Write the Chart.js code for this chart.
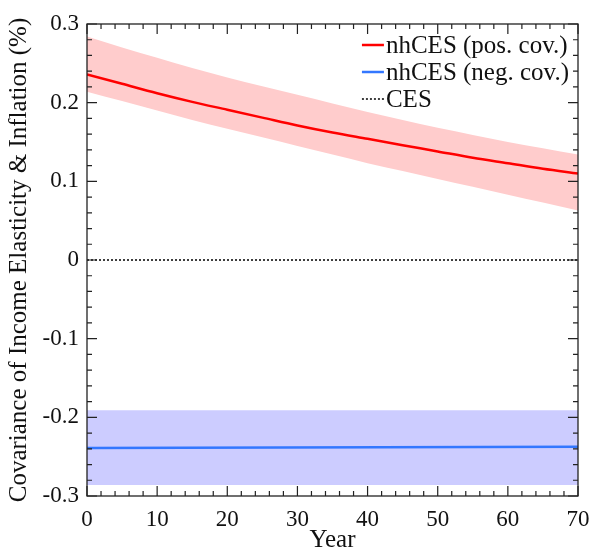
<!DOCTYPE html>
<html>
<head>
<meta charset="utf-8">
<script src="https://cdn.jsdelivr.net/npm/chart.js@4.4.1/dist/chart.umd.min.js"></script>
<style>
    html, body { margin: 0; padding: 0; background: #fff; }
    #wrap { width: 592px; height: 555px; }
</style>
</head>
<body>
<div id="wrap"><canvas id="covChart" width="592" height="555"></canvas></div>
<script>
// years and series values
const years = [0, 5, 10, 15, 20, 25, 30, 35, 40, 45, 50, 55, 60, 65, 70];
const posCov = [0.236, 0.224, 0.212, 0.201, 0.191, 0.181, 0.171, 0.162, 0.154, 0.146, 0.138, 0.130, 0.123, 0.116, 0.110];
const posUpper = [0.284, 0.270, 0.257, 0.244, 0.232, 0.221, 0.210, 0.199, 0.188, 0.178, 0.168, 0.159, 0.150, 0.142, 0.134];
const posLower = [0.214, 0.202, 0.190, 0.178, 0.167, 0.156, 0.145, 0.134, 0.123, 0.113, 0.103, 0.093, 0.083, 0.073, 0.063];
const negYears = [0, 70];
const negCov = [-0.239, -0.2375];
const negUpper = [-0.191, -0.191];
const negLower = [-0.286, -0.286];
const cesYears = [0, 70];
const cesValues = [0, 0];

const xTicks = [0, 10, 20, 30, 40, 50, 60, 70];
const yTicks = [0.3, 0.2, 0.1, 0, -0.1, -0.2, -0.3];

const serif = '"Liberation Serif", "DejaVu Serif", serif';

function pts(xs, ys) {
    return xs.map((x, i) => ({ x: x, y: ys[i] }));
}

// frame with inward ticks on all four sides, positioned from the scales
const frameTicks = {
    id: 'frameTicks',
    afterDatasetsDraw(chart) {
        const { ctx, chartArea: a, scales } = chart;
        ctx.save();
        ctx.strokeStyle = '#222';
        ctx.lineWidth = 1.3;
        ctx.strokeRect(a.left, a.top, a.right - a.left, a.bottom - a.top);
        ctx.lineWidth = 1.2;
        ctx.beginPath();
        scales.x.ticks.forEach(t => {
            const px = scales.x.getPixelForValue(t.value);
            const len = Math.abs(t.value % 10) < 1e-6 ? 10 : 5;
            ctx.moveTo(px, a.bottom); ctx.lineTo(px, a.bottom - len);
            ctx.moveTo(px, a.top); ctx.lineTo(px, a.top + len);
        });
        scales.y.ticks.forEach(t => {
            const py = scales.y.getPixelForValue(t.value);
            const major = Math.abs(Math.round(t.value * 100) % 10) === 0;
            const len = major ? 10 : 5;
            ctx.moveTo(a.left, py); ctx.lineTo(a.left + len, py);
            ctx.moveTo(a.right, py); ctx.lineTo(a.right - len, py);
        });
        ctx.stroke();
        ctx.restore();
    }
};

// legend in the upper right corner, drawn from the dataset styles
const cornerLegend = {
    id: 'cornerLegend',
    afterDraw(chart) {
        const { ctx, chartArea: a } = chart;
        const items = chart.data.datasets.filter(d => d.inLegend);
        ctx.save();
        ctx.font = '25px ' + serif;
        ctx.textBaseline = 'middle';
        ctx.textAlign = 'left';
        const widths = items.map(d => ctx.measureText(d.label).width);
        const textX = a.right - 9 - Math.max(...widths);
        items.forEach((d, i) => {
            const y = a.top + 21 + i * 27;
            ctx.strokeStyle = d.borderColor;
            ctx.lineWidth = d.borderWidth;
            ctx.setLineDash(d.borderDash || []);
            ctx.beginPath();
            ctx.moveTo(textX - 24, y);
            ctx.lineTo(textX - 2, y);
            ctx.stroke();
            ctx.setLineDash([]);
            ctx.fillStyle = '#111';
            ctx.fillText(d.label, textX, y + 1);
        });
        ctx.restore();
    }
};

const ctx = document.getElementById('covChart').getContext('2d');
new Chart(ctx, {
    type: 'line',
    data: {
        datasets: [
            {
                label: 'nhCES (pos. cov.)', data: pts(years, posCov), inLegend: true,
                borderColor: 'rgb(255, 0, 0)', borderWidth: 2.5,
                pointRadius: 0, fill: false, cubicInterpolationMode: 'monotone'
            },
            {
                label: 'nhCES (neg. cov.)', data: pts(negYears, negCov), inLegend: true,
                borderColor: 'rgb(51, 119, 255)', borderWidth: 2.5,
                pointRadius: 0, fill: false
            },
            {
                label: 'CES', data: pts(cesYears, cesValues), inLegend: true,
                borderColor: '#000', borderWidth: 1.5, borderDash: [2, 2],
                pointRadius: 0, fill: false
            },
            {
                label: 'pos upper', data: pts(years, posUpper),
                borderWidth: 0, pointRadius: 0, backgroundColor: 'rgb(255, 204, 204)',
                fill: '+1', cubicInterpolationMode: 'monotone'
            },
            {
                label: 'pos lower', data: pts(years, posLower),
                borderWidth: 0, pointRadius: 0, fill: false, cubicInterpolationMode: 'monotone'
            },
            {
                label: 'neg upper', data: pts(negYears, negUpper),
                borderWidth: 0, pointRadius: 0, backgroundColor: 'rgb(204, 204, 255)',
                fill: '+1'
            },
            {
                label: 'neg lower', data: pts(negYears, negLower),
                borderWidth: 0, pointRadius: 0, fill: false
            }
        ]
    },
    options: {
        responsive: false,
        animation: false,
        layout: { padding: { top: 24, right: 14, left: 0, bottom: 0 } },
        plugins: {
            legend: { display: false },
            tooltip: { enabled: false }
        },
        scales: {
            x: {
                type: 'linear',
                min: 0, max: 70,
                grid: { display: false },
                border: { display: false },
                ticks: {
                    stepSize: 2,
                    autoSkip: false,
                    maxRotation: 0,
                    padding: 2,
                    color: '#111',
                    font: { family: serif, size: 23 },
                    callback: v => xTicks.includes(v) ? String(v) : ''
                },
                title: {
                    display: true, text: 'Year', color: '#111',
                    font: { family: serif, size: 25 }, padding: { top: 5, bottom: 0 }
                },
                afterFit: s => { s.height = 59; }
            },
            y: {
                type: 'linear',
                min: -0.3, max: 0.3,
                grid: { display: false },
                border: { display: false },
                ticks: {
                    stepSize: 0.02,
                    autoSkip: false,
                    padding: 0,
                    color: '#111',
                    font: { family: serif, size: 23 },
                    callback: v => {
                        const r = Math.round(v * 100) / 100;
                        const hit = yTicks.find(t => Math.abs(t - r) < 1e-9);
                        return hit === undefined ? '' : String(hit);
                    }
                },
                title: {
                    display: true, text: 'Covariance of Income Elasticity & Inflation (%)', color: '#111',
                    font: { family: serif, size: 25 }, padding: { top: 4, bottom: 4 }
                },
                afterFit: s => { s.width = 87; }
            }
        }
    },
    plugins: [frameTicks, cornerLegend]
});
</script>
</body>
</html>
